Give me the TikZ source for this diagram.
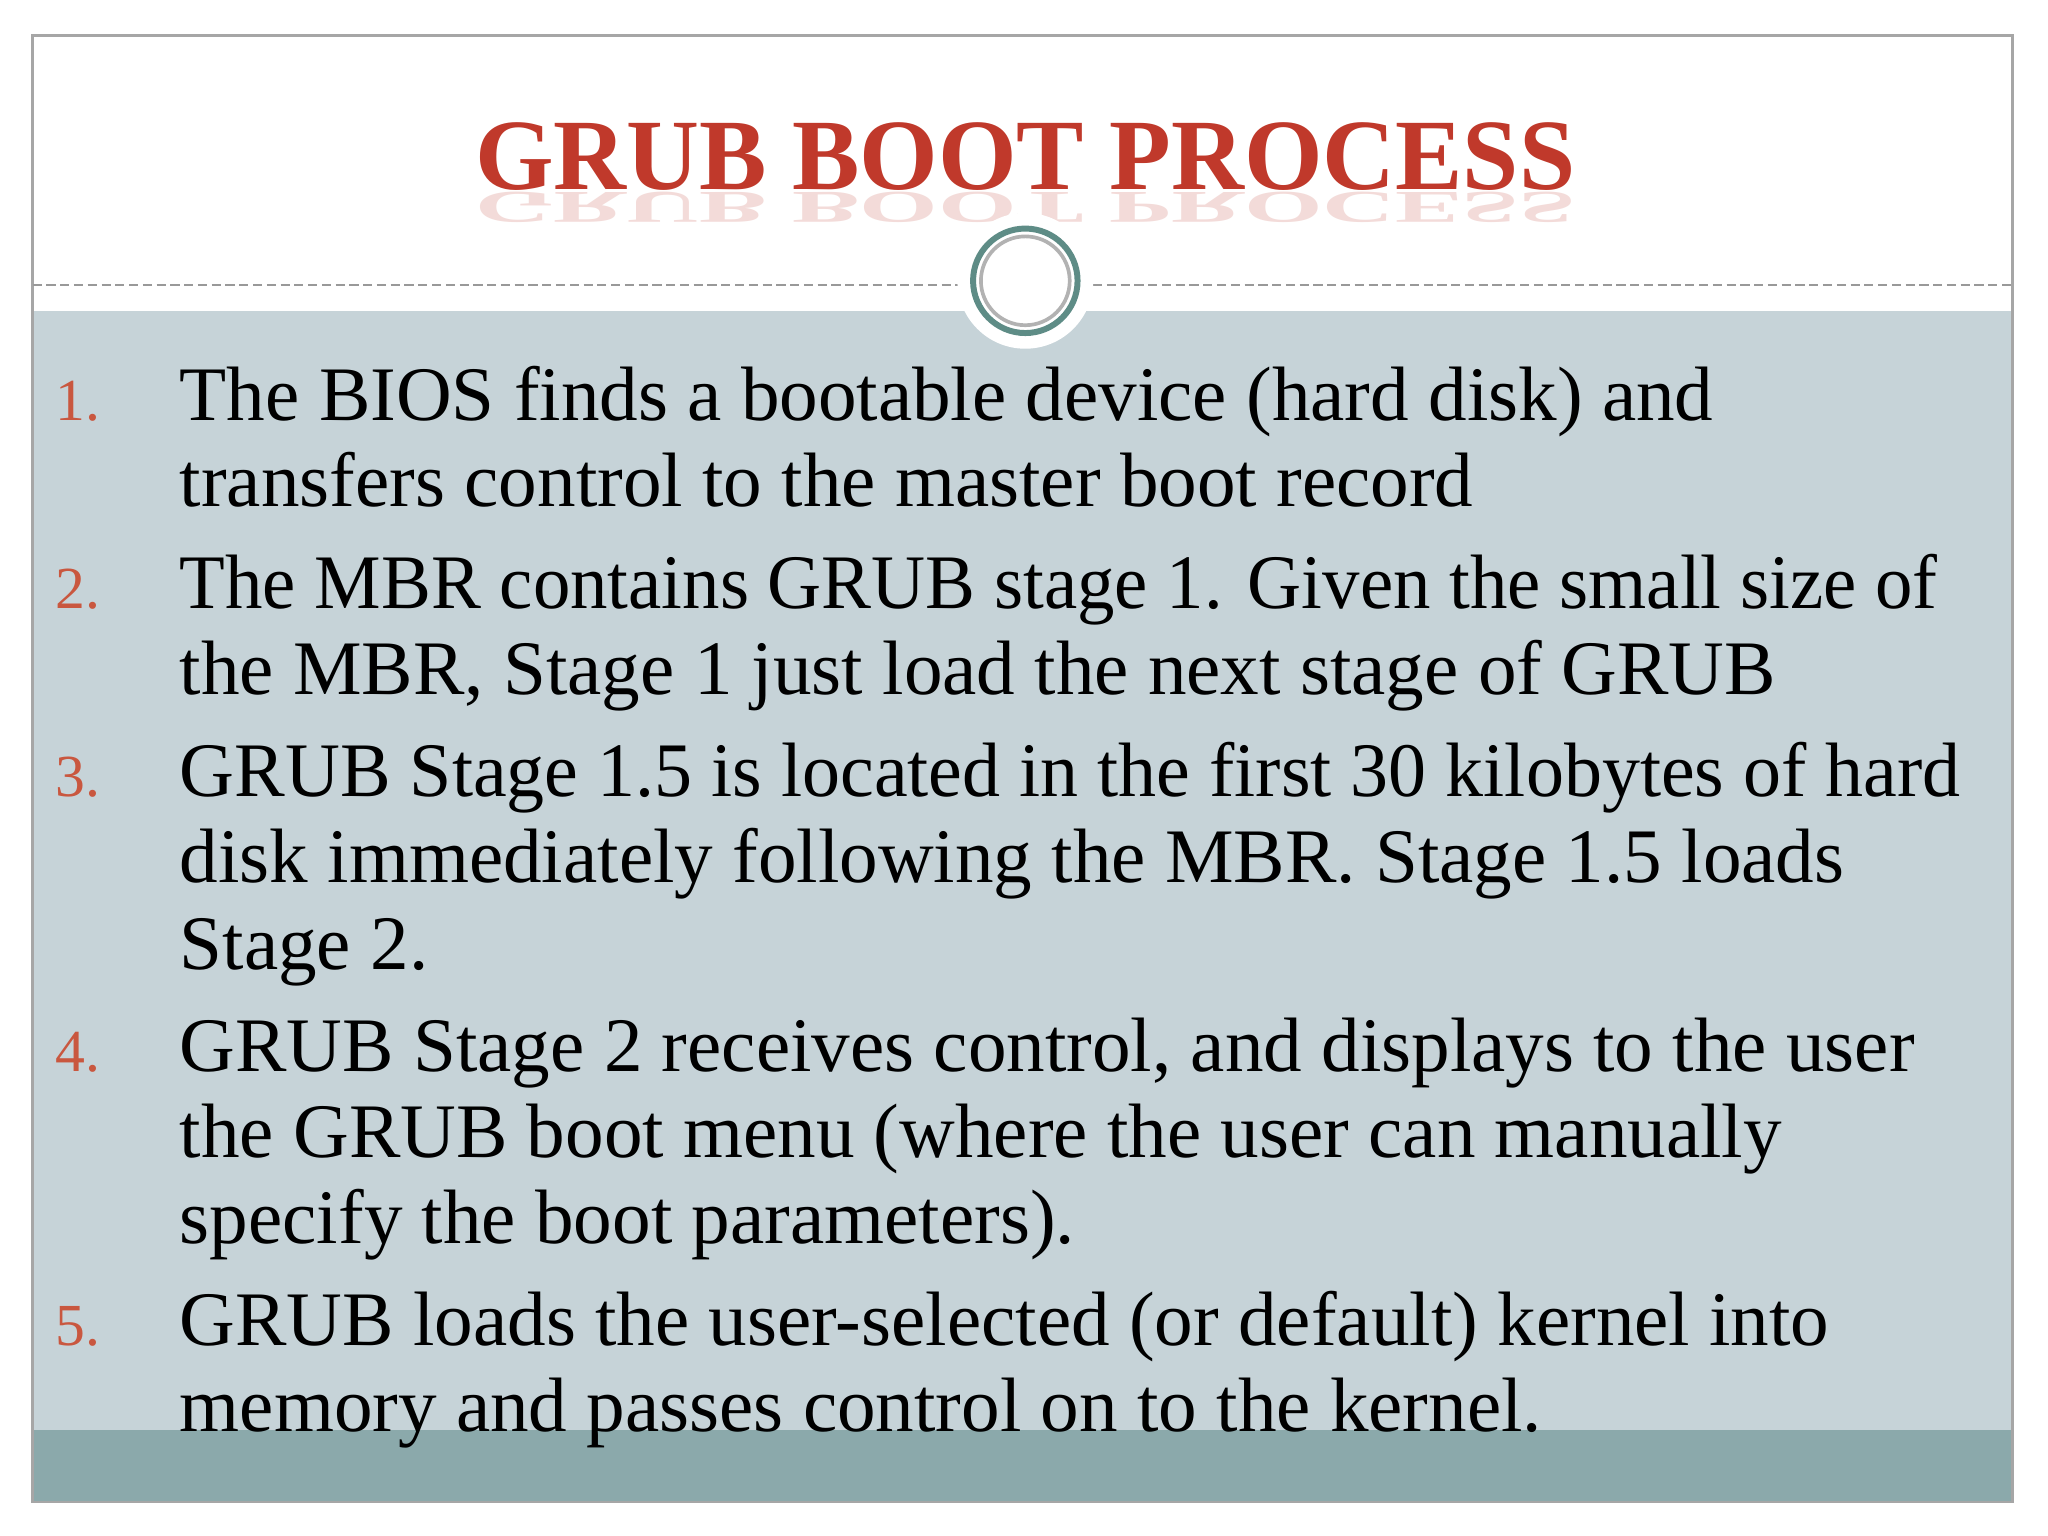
\documentclass[tikz,border=0pt]{standalone}
\usepackage{fontspec}
\setmainfont{Liberation Serif}
\definecolor{bodyc}{HTML}{C6D3D8}
\definecolor{bandc}{HTML}{8BA9AB}
\definecolor{numc}{HTML}{C9573F}
\definecolor{titc}{HTML}{C0392B}
\definecolor{ringc}{HTML}{5E8C86}
\tikzset{ln/.style={anchor=base west,inner sep=0,font=\fontsize{16.8}{20}\selectfont,text=black},
 num/.style={anchor=base west,inner sep=0,font=\fontsize{13}{15}\selectfont,text=numc},
 ttl/.style={inner sep=0,font=\fontsize{22}{26}\selectfont\bfseries}}
\begin{document}
\begin{tikzpicture}[x=1cm,y=-1cm]
\useasboundingbox (0,0) rectangle (15.68,11.76);
\fill[white] (0,0) rectangle (15.68,11.76);
\fill[bodyc] (0.25,2.38) rectangle (15.41,10.95);
\fill[bandc] (0.25,10.95) rectangle (15.41,11.50);
\draw[gray!70,line width=0.6pt] (0.25,0.27) rectangle (15.41,11.50);
\draw[gray!80,dash pattern=on 2pt off 1pt,line width=0.5pt] (0.25,2.18) -- (15.41,2.18);
\node[ttl,text=titc!30,opacity=0.6,yscale=-0.45,anchor=south] (refl) at (7.85,1.47) {GRUB BOOT PROCESS};
\node[ttl,text=titc] (title) at (7.85,1.20) {GRUB BOOT PROCESS};
\fill[white] (7.85,2.15) circle (0.52);
\node[circle,draw=ringc,line width=1.3pt,minimum size=0.8cm,inner sep=0] (ring) at (7.85,2.15) {};
\draw[gray!60,line width=0.8pt] (ring.center) circle (0.34);
\node[num] (n1) at (0.42,3.22) {1.};
\node[num] (n2) at (0.42,4.66) {2.};
\node[num] (n3) at (0.42,6.10) {3.};
\node[num] (n4) at (0.42,8.20) {4.};
\node[num] (n5) at (0.42,10.30) {5.};
\node[ln] (l1) at (1.37,3.22) {The BIOS finds a bootable device (hard disk) and};
\node[ln] (l2) at (1.37,3.88) {transfers control to the master boot record};
\node[ln,xscale=0.97] (l3) at (1.37,4.66) {The MBR contains GRUB stage 1. Given the small size of};
\node[ln] (l4) at (1.37,5.32) {the MBR, Stage 1 just load the next stage of GRUB};
\node[ln,xscale=0.985] (l5) at (1.37,6.10) {GRUB Stage 1.5 is located in the first 30 kilobytes of hard};
\node[ln] (l6) at (1.37,6.76) {disk immediately following the MBR. Stage 1.5 loads};
\node[ln] (l7) at (1.37,7.42) {Stage 2.};
\node[ln] (l8) at (1.37,8.20) {GRUB Stage 2 receives control, and displays to the user};
\node[ln] (l9) at (1.37,8.86) {the GRUB boot menu (where the user can manually};
\node[ln] (l10) at (1.37,9.52) {specify the boot parameters).};
\node[ln] (l11) at (1.37,10.30) {GRUB loads the user-selected (or default) kernel into};
\node[ln] (l12) at (1.37,10.96) {memory and passes control on to the kernel.};
\end{tikzpicture}
\end{document}
